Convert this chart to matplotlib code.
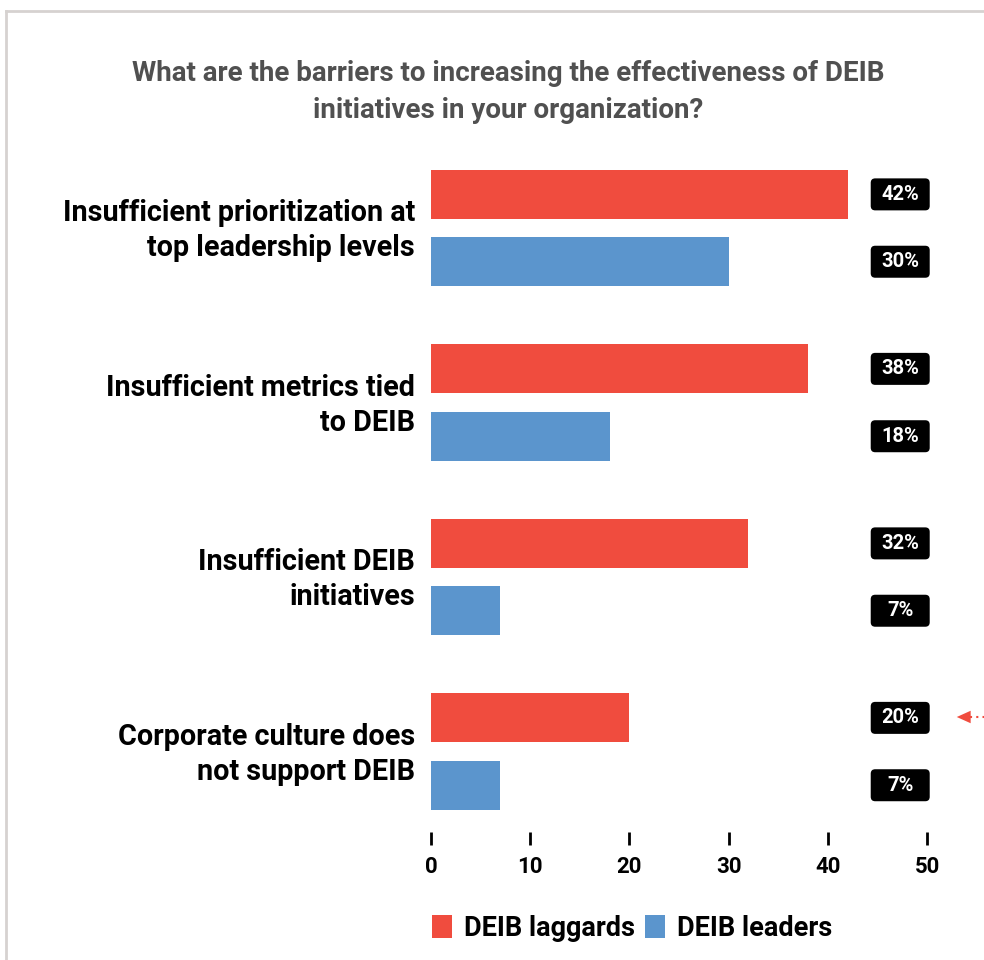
import matplotlib
matplotlib.use("Agg")
import matplotlib.pyplot as plt
from matplotlib.lines import Line2D
from matplotlib.patches import FancyBboxPatch

plt.rcParams['font.family'] = ['Roboto', 'DejaVu Sans']

title = "What are the barriers to increasing the effectiveness of DEIB\ninitiatives in your organization?"
categories = [
    "Insufficient prioritization at\ntop leadership levels",
    "Insufficient metrics tied\nto DEIB",
    "Insufficient DEIB\ninitiatives",
    "Corporate culture does\nnot support DEIB",
]
laggards = [42, 38, 32, 20]
leaders = [30, 18, 7, 7]
series_names = ["DEIB laggards", "DEIB leaders"]
x_ticks = [0, 10, 20, 30, 40, 50]

red = "#f04c3e"
blue = "#5b95cd"

fig = plt.figure(figsize=(9.84, 9.6), dpi=100)
ax_h = 672
ax = fig.add_axes([431 / 984, (960 - 832) / 960, 496 / 984, ax_h / 960])

offset = 0.193
height = 0.28
pos = list(range(len(categories)))
ax.barh([p - offset for p in pos], laggards, height=height, color=red, label=series_names[0])
ax.barh([p + offset for p in pos], leaders, height=height, color=blue, label=series_names[1])

ax.set_xlim(0, 50)
ax.set_ylim(3.461, -0.39)

# value badges: fixed-size rounded boxes in a column near the right end
px_x = 496 / 50.0          # pixels per x unit
px_y = ax_h / 3.851        # pixels per y unit
bw = 59 / px_x
bh = 32 / px_y
bx = 47.3
for p, a, b in zip(pos, laggards, leaders):
    for yy, v in ((p - offset, a), (p + offset, b)):
        ax.add_patch(FancyBboxPatch((bx - bw / 2, yy - bh / 2), bw, bh,
                                    boxstyle="round,pad=0,rounding_size=0.45",
                                    mutation_aspect=px_x / px_y, fc="black", ec="none",
                                    clip_on=False))
        ax.text(bx, yy, "%d%%" % v, ha="center", va="center", color="white",
                fontsize=14.5, fontweight="bold")

for p, c in zip(pos, categories):
    ax.text(-1.6, p + 0.015, c, ha="right", va="center", fontsize=20.7, fontweight="bold",
            color="black", linespacing=1.33)

ax.set_xticks(x_ticks)
ax.set_xticklabels([str(t) for t in x_ticks], fontsize=16, fontweight="bold")
ax.set_yticks([])
ax.tick_params(axis="x", direction="out", length=9, width=2, pad=8, color="black")
for s in ax.spines.values():
    s.set_visible(False)

fig.text(508 / 984, 1 - 92 / 960, title, ha="center", va="center", fontsize=20,
         fontweight="bold", color="#505050", linespacing=1.48)

leg = ax.legend(loc="center", bbox_to_anchor=(632 / 984, 1 - 928 / 960),
                bbox_transform=fig.transFigure, ncol=2, frameon=False,
                prop={"size": 19.5, "weight": "bold"}, handlelength=0.75, handleheight=0.95,
                handletextpad=0.45, columnspacing=0.35)

# outer frame, top and left edges
fig.add_artist(Line2D([6 / 984, 1], [1 - 11 / 960, 1 - 11 / 960], color="#d6d2d0", lw=2,
                      transform=fig.transFigure))
fig.add_artist(Line2D([6 / 984, 6 / 984], [0, 1 - 11 / 960], color="#d6d2d0", lw=2,
                      transform=fig.transFigure))

# pointer next to the 20% badge
fig.add_artist(Line2D([970 / 984, 984 / 984], [1 - 717 / 960] * 2, color=red, lw=1.5,
                      linestyle=(0, (1, 2)), transform=fig.transFigure))
ax.annotate("", xy=(954 / 984, 1 - 717 / 960), xycoords="figure fraction",
            xytext=(971 / 984, 1 - 717 / 960), textcoords="figure fraction",
            arrowprops=dict(arrowstyle="-|>,head_length=1.0,head_width=0.45", color=red, lw=0))

fig.savefig("out.png", dpi=100, facecolor="white")
